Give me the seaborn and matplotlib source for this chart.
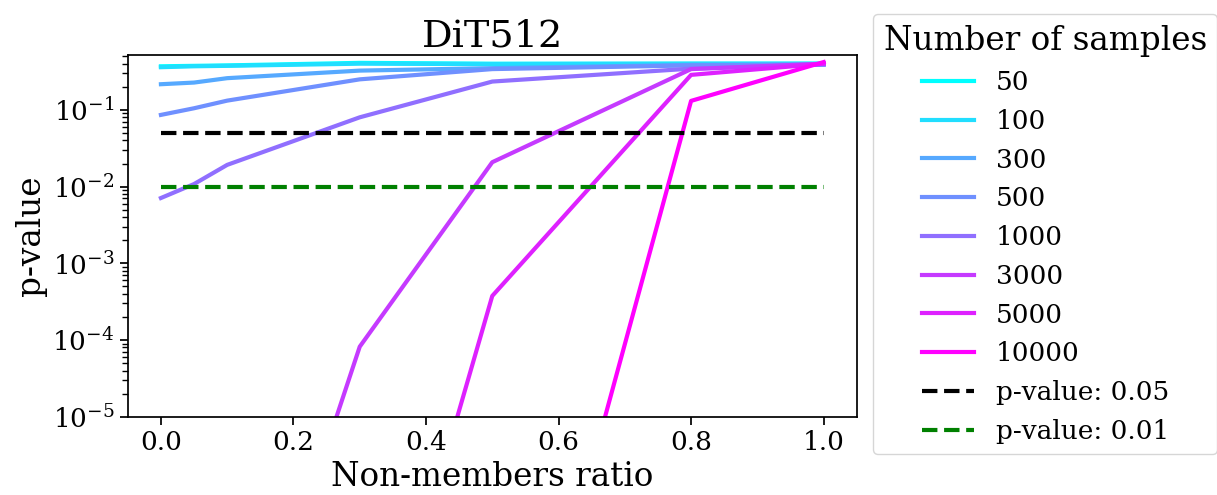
import matplotlib
matplotlib.use("Agg")
import matplotlib.pyplot as plt
import matplotlib.colors as mcolors
import numpy as np
import pandas as pd
import seaborn as sns

# Non-members ratio at which each test was run
ratios = [0.0, 0.05, 0.1, 0.3, 0.5, 0.8, 1.0]

# Number of samples used for each test
sample_sizes = [50, 100, 300, 500, 1000, 3000, 5000, 10000]

# p-values per sample size (one list per sample size, aligned with ratios)
pv_50 = [0.37, 0.375, 0.38, 0.41, 0.40, 0.40, 0.40]
pv_100 = [0.36, 0.37, 0.375, 0.40, 0.395, 0.40, 0.40]
pv_300 = [0.216, 0.227, 0.259, 0.325, 0.35, 0.386, 0.39]
pv_500 = [0.086, 0.105, 0.132, 0.25, 0.34, 0.38, 0.39]
pv_1000 = [0.0071, 0.0108, 0.0192, 0.080, 0.234, 0.345, 0.39]
pv_3000 = [1e-11, 1e-10, 5e-10, 8.2e-5, 0.0208, 0.34, 0.40]
pv_5000 = [1e-13, 1e-12, 1e-11, 4e-10, 3.76e-4, 0.286, 0.40]
pv_10000 = [1e-15, 1e-14, 1e-13, 1e-12, 4e-11, 0.131, 0.42]

pvalues = [pv_50, pv_100, pv_300, pv_500, pv_1000, pv_3000, pv_5000, pv_10000]

# Significance thresholds
thresholds = [0.05, 0.01]
threshold_colors = ["black", "green"]

df = pd.DataFrame(
    [(n, r, p) for n, series in zip(sample_sizes, pvalues) for r, p in zip(ratios, series)],
    columns=["samples", "ratio", "pvalue"],
)

sns.set_context("notebook")
plt.rcParams["font.family"] = ["DejaVu Serif"]
plt.rcParams["mathtext.fontset"] = "dejavuserif"

fig = plt.figure(figsize=(12.17, 4.95), dpi=100)
ax = fig.add_axes([0.105, 0.158, 0.599, 0.731])

sns.lineplot(
    data=df, x="ratio", y="pvalue", hue="samples",
    hue_norm=mcolors.LogNorm(vmin=min(sample_sizes), vmax=max(sample_sizes)),
    palette="cool", linewidth=3, legend=False, ax=ax,
)
for line, n in zip(ax.lines, sample_sizes):
    line.set_label(str(n))

for t, c in zip(thresholds, threshold_colors):
    ax.plot([ratios[0], ratios[-1]], [t, t], linestyle="--", color=c,
            linewidth=3, label=f"p-value: {t}")

ax.set_yscale("log")
ax.set_ylim(1e-5, 0.52)
ax.set_xlim(-0.05, 1.05)
ax.set_xticks([0.0, 0.2, 0.4, 0.6, 0.8, 1.0])
ax.tick_params(labelsize=19)
ax.set_xlabel("Non-members ratio", fontsize=23.5)
ax.set_ylabel("p-value", fontsize=23.5)
ax.set_title("DiT512", fontsize=27.5)

handles, labels = ax.get_legend_handles_labels()
fig.legend(handles, labels, title="Number of samples", fontsize=19,
           title_fontsize=23.5, loc="upper left", labelspacing=0.52,
           borderpad=0.4, borderaxespad=0,
           bbox_to_anchor=(873 / 1217, 1 - 14 / 495),
           bbox_transform=fig.transFigure)

fig.savefig("out.png", dpi=100)
